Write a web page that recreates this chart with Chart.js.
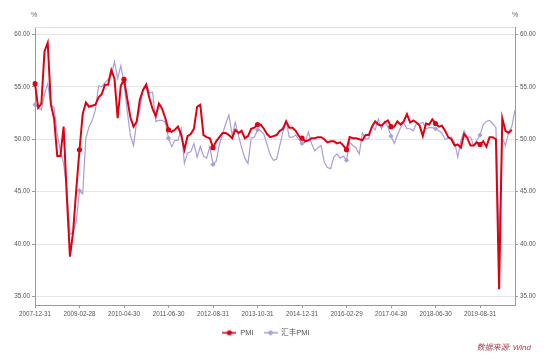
<!DOCTYPE html>
<html><head><meta charset="utf-8">
<script src="https://cdn.jsdelivr.net/npm/chart.js@4/dist/chart.umd.min.js"></script>
<style>html,body{margin:0;padding:0;background:#fff}#wrap{width:550px;height:357px;position:relative}</style>
</head><body><div id="wrap"><canvas id="c" width="550" height="357"></canvas></div>
<script>
// ---- data ----
const startYear = 2007, startMonth = 12, monthCount = 152;
const tickEvery = 14;
const yTicks = [35, 40, 45, 50, 55, 60];
const seriesNames = ['PMI', '汇丰PMI'];
const unitLabel = '%';
const sourceText = '数据来源: Wind';

const pmi = [
  55.3,
  53.0, 53.4, 58.4, 59.2, 53.3, 52.0, 48.4, 48.4, 51.2, 44.6, 38.8, 41.2,
  45.3, 49.0, 52.4, 53.5, 53.1, 53.2, 53.3, 54.0, 54.3, 55.2, 55.2, 56.6,
  55.8, 52.0, 55.1, 55.7, 53.9, 52.1, 51.2, 51.7, 53.8, 54.7, 55.2, 53.9,
  52.9, 52.2, 53.4, 52.9, 52.0, 50.9, 50.7, 50.9, 51.2, 50.4, 49.0, 50.3,
  50.5, 51.0, 53.1, 53.3, 50.4, 50.2, 50.1, 49.2, 49.8, 50.2, 50.6, 50.6,
  50.4, 50.1, 50.9, 50.6, 50.8, 50.1, 50.3, 51.0, 51.1, 51.4, 51.4, 51.0,
  50.5, 50.2, 50.3, 50.4, 50.8, 51.0, 51.7, 51.1, 51.1, 50.8, 50.3, 50.1,
  49.8, 49.9, 50.1, 50.1, 50.2, 50.2, 50.0, 49.7, 49.8, 49.8, 49.6, 49.7,
  49.4, 49.0, 50.2, 50.1, 50.1, 50.0, 49.9, 50.4, 50.4, 51.2, 51.7, 51.4,
  51.3, 51.6, 51.8, 51.2, 51.2, 51.7, 51.4, 51.7, 52.4, 51.6, 51.8, 51.6,
  51.3, 50.3, 51.5, 51.4, 51.9, 51.5, 51.2, 51.3, 50.8, 50.2, 50.0, 49.4,
  49.5, 49.2, 50.5, 50.1, 49.4, 49.4, 49.7, 49.5, 49.8, 49.3, 50.2, 50.2,
  50.0, 35.7, 52.0, 50.8, 50.6, 50.9
];
const hsbc = [
  53.3,
  53.0, 52.8, 54.3, 55.3, 53.3, 53.0, 50.5, 48.9, 47.7, 45.2, 40.9, 41.2,
  42.2, 45.1, 44.8, 50.1, 51.2, 51.8, 52.8, 55.1, 55.0, 55.4, 55.7, 56.1,
  57.4, 55.8, 57.0, 55.4, 52.7, 50.4, 49.4, 51.7, 52.9, 54.8, 55.3, 54.4,
  54.5, 51.7, 51.8, 51.8, 51.6, 50.1, 49.3, 49.9, 49.9, 51.0, 47.7, 48.7,
  48.8, 49.6, 48.3, 49.3, 48.4, 48.2, 49.3, 47.6, 47.9, 49.5, 50.5, 51.5,
  52.3, 50.4, 51.6, 50.4, 49.2, 48.2, 47.7, 50.1, 50.2, 50.9, 50.8, 50.5,
  49.5, 48.5, 48.0, 48.1, 49.4, 50.7, 51.7, 50.2, 50.2, 50.4, 50.0, 49.6,
  49.7, 50.7, 49.6, 48.9, 49.2, 49.4, 47.8, 47.3, 47.2, 48.3, 48.6, 48.2,
  48.4, 48.0, 49.7, 49.4, 49.2, 48.6, 50.6, 50.0, 50.1, 51.2, 50.9, 51.9,
  51.0, 51.7, 51.2, 50.3, 49.6, 50.4, 51.1, 51.6, 51.0, 51.0, 50.8, 51.5,
  51.5, 51.6, 51.0, 51.1, 51.1, 51.0, 50.8, 50.6, 50.0, 50.1, 50.2, 49.7,
  48.3, 49.9, 50.8, 50.2, 50.2, 49.4, 49.9, 50.4, 51.4, 51.7, 51.8, 51.5,
  51.1, 40.3, 50.1, 49.4, 50.7, 51.2, 52.8
];

function monthEnd(y, m) {
  const d = new Date(Date.UTC(y, m, 0)).getUTCDate();
  return y + '-' + String(m).padStart(2, '0') + '-' + String(d).padStart(2, '0');
}
const categories = [];
for (let i = 0; i < monthCount; i++) {
  const t = startMonth - 1 + i;
  categories.push(monthEnd(startYear + Math.floor(t / 12), t % 12 + 1));
}

// ---- styles ----
const RED = '#e00012';
const PURPLE = '#a99ed9';
const AXIS = '#9a9a9a';
const GRID = '#e6e6e6';
const TXT = '#555';
Chart.defaults.font.family = '"Liberation Sans", Arial, "Noto Sans CJK SC", sans-serif';

function legendIcon(color, kind) {
  const c = document.createElement('canvas');
  c.width = 14; c.height = 8;
  const g = c.getContext('2d');
  g.strokeStyle = color; g.lineWidth = 1.5;
  g.beginPath(); g.moveTo(0, 4); g.lineTo(14, 4); g.stroke();
  g.fillStyle = color;
  g.beginPath();
  if (kind === 'circle') { g.arc(7, 4, 2.6, 0, Math.PI * 2); }
  else { g.moveTo(7, 1); g.lineTo(10, 4); g.lineTo(7, 7); g.lineTo(4, 4); g.closePath(); }
  g.fill();
  return c;
}
const icons = [legendIcon(RED, 'circle'), legendIcon(PURPLE, 'diamond')];

const markerRadius = (ctx) => (ctx.dataIndex % tickEvery === 0 ? 2.6 : 0);

const extras = {
  id: 'extras',
  afterUpdate(chart) {
    if (chart.legend) { chart.legend.left -= 9; chart.legend.right -= 9; }
  },
  beforeDatasetsDraw(chart) {
    const {ctx, chartArea} = chart;
    ctx.save();
    ctx.strokeStyle = '#dddddd'; ctx.lineWidth = 1;
    ctx.beginPath();
    ctx.moveTo(chartArea.left, Math.round(chartArea.top) + 0.5);
    ctx.lineTo(chartArea.right, Math.round(chartArea.top) + 0.5);
    ctx.stroke();
    ctx.restore();
  },
  afterDraw(chart) {
    const {ctx, chartArea} = chart;
    ctx.save();
    ctx.fillStyle = '#666';
    ctx.font = '7px "Liberation Sans", Arial, sans-serif';
    ctx.textAlign = 'center'; ctx.textBaseline = 'middle';
    ctx.fillText(unitLabel, chartArea.left - 1, 15);
    ctx.fillText(unitLabel, chartArea.right, 15);
    ctx.fillStyle = '#a8404c';
    ctx.font = 'italic 8px "Liberation Sans", "Noto Sans CJK SC", sans-serif';
    ctx.textAlign = 'right';
    ctx.fillText(sourceText, 531, 348);
    ctx.restore();
  }
};

new Chart(document.getElementById('c'), {
  type: 'line',
  data: {
    labels: categories,
    datasets: [
      { label: seriesNames[0], data: pmi, borderColor: RED, backgroundColor: RED,
        borderWidth: 2, tension: 0, pointRadius: markerRadius, pointStyle: 'circle',
        pointBorderWidth: 0, pointHoverRadius: 0, spanGaps: false },
      { label: seriesNames[1], data: hsbc, borderColor: PURPLE, backgroundColor: PURPLE,
        borderWidth: 1.2, tension: 0, pointRadius: markerRadius, pointStyle: 'rectRot',
        pointBorderWidth: 0, pointHoverRadius: 0 }
    ]
  },
  options: {
    responsive: false, animation: false, devicePixelRatio: 1,
    layout: { padding: { top: 27, left: 0, right: 0, bottom: 10.5 } },
    plugins: {
      tooltip: { enabled: false },
      legend: {
        position: 'bottom',
        labels: {
          font: { size: 7.5 }, color: TXT, usePointStyle: true, pointStyleWidth: 14,
          boxHeight: 7, padding: 10,
          generateLabels(chart) {
            return chart.data.datasets.map((ds, i) => ({
              text: ds.label, pointStyle: icons[i], fillStyle: ds.borderColor,
              strokeStyle: ds.borderColor, lineWidth: 0, hidden: false, datasetIndex: i,
              fontColor: TXT
            }));
          }
        }
      }
    },
    scales: {
      x: {
        type: 'category', offset: false,
        grid: { drawOnChartArea: false, drawTicks: true, tickLength: 3, color: AXIS },
        border: { color: AXIS },
        ticks: { autoSkip: false, maxRotation: 0, minRotation: 0, font: { size: 6.3 }, color: TXT, padding: 2,
          callback(v) { return this.getLabelForValue(v); } },
        afterBuildTicks(s) { s.ticks = s.ticks.filter(t => t.value % tickEvery === 0); },
        afterFit(s) { s.height = 14; }
      },
      y: {
        position: 'left', min: 34.2, max: 60.7,
        afterBuildTicks(s) { s.ticks = yTicks.map(v => ({ value: v })); },
        ticks: { font: { size: 6.3 }, color: TXT, padding: 2, callback: v => Number(v).toFixed(2) },
        grid: { color: GRID, tickLength: 3, tickColor: AXIS },
        border: { color: AXIS },
        afterFit(s) { s.width = 35; }
      },
      y1: {
        position: 'right', min: 34.2, max: 60.7,
        afterBuildTicks(s) { s.ticks = yTicks.map(v => ({ value: v })); },
        ticks: { font: { size: 6.3 }, color: TXT, padding: 2, callback: v => Number(v).toFixed(2) },
        grid: { drawOnChartArea: false, tickLength: 3, color: AXIS },
        border: { color: AXIS },
        afterFit(s) { s.width = 35; }
      }
    }
  },
  plugins: [extras]
});
</script></body></html>
